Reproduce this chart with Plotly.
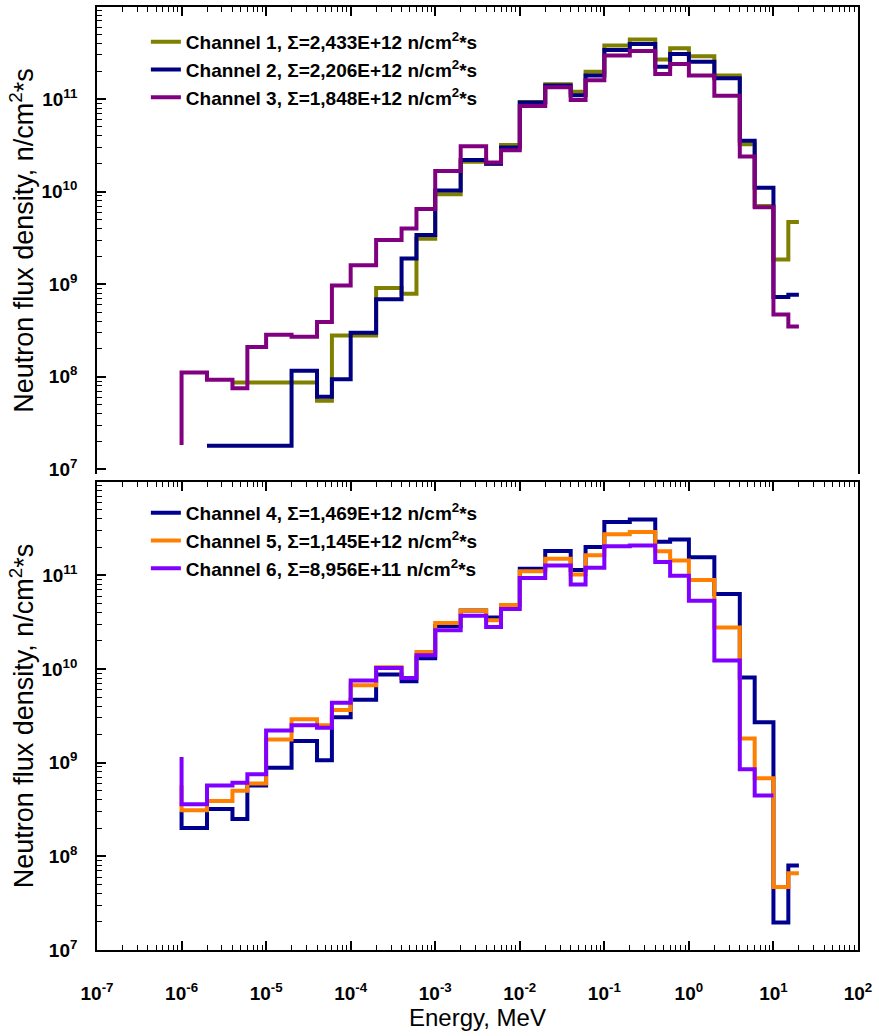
import plotly.graph_objects as go

# Energy group edges, MeV (step plot vertices)
energy = [1e-6, 2e-6, 4e-6, 6e-6, 1e-5, 2e-5, 4e-5, 6e-5,
          1e-4, 2e-4, 4e-4, 6e-4, 1e-3, 2e-3, 4e-3, 6e-3,
          1e-2, 2e-2, 4e-2, 6e-2, 0.1, 0.2, 0.4, 0.6,
          1, 2, 4, 6, 10, 15, 20]

# Flux density values, n/cm^2*s (value i is the level of the group ending at energy[i])
ch1 = [None, None, 8.7e7, 8.7e7, 8.7e7, 8.7e7, 8.7e7, 5.5e7, 2.8e8, 2.8e8, 9.1e8, 7.9e8,
       3.1e9, 9.4e9, 2.1e10, 2.0e10, 3.2e10, 9.3e10, 1.45e11, 1.2e11, 1.98e11, 3.8e11,
       4.4e11, 2.67e11, 3.55e11, 2.9e11, 1.8e11, 3.25e10, 7.0e9, 1.85e9, 4.7e9]
ch2 = [None, 1.8e7, 1.8e7, 1.8e7, 1.8e7, 1.8e7, 1.16e8, 6.1e7, 9.4e7, 3.0e8, 6.9e8, 1.9e9,
       3.4e9, 1.03e10, 2.2e10, 2.0e10, 3.0e10, 9.2e10, 1.4e11, 1.1e11, 1.8e11, 3.4e11,
       3.95e11, 2.24e11, 3.07e11, 2.54e11, 1.68e11, 3.55e10, 1.1e10, 7.3e8, 7.7e8]
ch3 = [1.83e7, 1.11e8, 9.3e7, 7.5e7, 2.1e8, 2.85e8, 2.7e8, 3.9e8, 9.7e8, 1.6e9, 3.0e9, 4.0e9,
       6.5e9, 1.67e10, 3.1e10, 2.07e10, 2.8e10, 8.4e10, 1.34e11, 9.8e10, 1.6e11, 2.95e11,
       3.3e11, 1.87e11, 2.4e11, 1.8e11, 1.09e11, 2.4e10, 6.8e9, 4.7e8, 3.5e8]
ch4 = [3.0e8, 2.0e8, 3.2e8, 2.5e8, 5.7e8, 8.8e8, 1.7e9, 1.06e9, 3.05e9, 4.7e9, 8.7e9, 7.4e9,
       1.3e10, 2.87e10, 4.2e10, 3.53e10, 4.8e10, 1.17e11, 1.81e11, 1.14e11, 2.0e11, 3.7e11,
       3.94e11, 2.27e11, 2.4e11, 1.56e11, 6.3e10, 8.1e9, 2.7e9, 1.97e7, 8.0e7]
ch5 = [5.7e8, 3.1e8, 3.9e8, 5.0e8, 6.0e8, 1.77e9, 2.9e9, 2.5e9, 3.65e9, 6.7e9, 1.04e10, 8.0e9,
       1.52e10, 3.1e10, 4.2e10, 3.3e10, 4.8e10, 1.1e11, 1.5e11, 1.02e11, 1.63e11, 2.74e11,
       2.9e11, 1.8e11, 1.44e11, 8.9e10, 2.76e10, 1.81e9, 6.8e8, 4.7e7, 6.6e7]
ch6 = [1.15e9, 3.6e8, 5.7e8, 6.1e8, 7.5e8, 2.2e9, 2.5e9, 2.35e9, 4.35e9, 7.5e9, 1.02e10, 8.0e9,
       1.4e10, 2.58e10, 3.7e10, 2.8e10, 4.35e10, 9.35e10, 1.27e11, 7.95e10, 1.2e11, 2.04e11,
       2.08e11, 1.38e11, 9.9e10, 5.35e10, 1.23e10, 8.5e8, 4.45e8, None, None]

names_top = ["Channel 1, Σ=2,433E+12 n/cm<sup>2</sup>*s",
             "Channel 2, Σ=2,206E+12 n/cm<sup>2</sup>*s",
             "Channel 3, Σ=1,848E+12 n/cm<sup>2</sup>*s"]
names_bot = ["Channel 4, Σ=1,469E+12 n/cm<sup>2</sup>*s",
             "Channel 5, Σ=1,145E+12 n/cm<sup>2</sup>*s",
             "Channel 6, Σ=8,956E+11 n/cm<sup>2</sup>*s"]
colors_top = ["#808000", "#000080", "#800080"]
colors_bot = ["#000090", "#FF8000", "#8000FF"]

# Tick labels
x_exponents = [-7, -6, -5, -4, -3, -2, -1, 0, 1, 2]
y_exponents = [7, 8, 9, 10, 11]
x_tickvals = [10.0 ** e for e in x_exponents]
x_ticktext = ["10<sup>%d</sup>" % e for e in x_exponents]
y_tickvals = [10.0 ** e for e in y_exponents]
y_ticktext = ["10<sup>%d</sup>" % e for e in y_exponents]

def minor_vals(lo, hi):
    return [m * 10.0 ** e for e in range(lo, hi) for m in range(2, 10)]

FONT = "Liberation Sans, Arial, sans-serif"

fig = go.Figure()
for y, name, col in zip([ch1, ch2, ch3], names_top, colors_top):
    fig.add_trace(go.Scatter(x=energy, y=y, name=name, mode="lines",
                             line=dict(color=col, width=4, shape="vh"),
                             xaxis="x", yaxis="y", legend="legend"))
for y, name, col in zip([ch4, ch5, ch6], names_bot, colors_bot):
    fig.add_trace(go.Scatter(x=energy, y=y, name=name, mode="lines",
                             line=dict(color=col, width=4, shape="vh"),
                             xaxis="x2", yaxis="y2", legend="legend2"))

H_PLOT = 1036 - 7 - 86
top_dom = [(950 - 474) / H_PLOT, 1]
bot_dom = [0, (950 - 482) / H_PLOT]

common_axis = dict(type="log", showline=True, linecolor="black", linewidth=1.6,
                   ticks="inside", ticklen=9, tickwidth=1.7, tickcolor="black",
                   showgrid=False, zeroline=False, tickmode="array")
xminor = dict(ticks="inside", ticklen=5, tickcolor="black", tickwidth=1.4,
              tickmode="array", tickvals=minor_vals(-7, 2), showgrid=False)
yminor = dict(ticks="inside", ticklen=5, tickcolor="black", tickwidth=1.4,
              tickmode="array", tickvals=minor_vals(6, 12), showgrid=False)
ytitle = dict(text="Neutron flux density, n/cm<sup>2</sup>*s",
              font=dict(family=FONT, size=27, color="black"), standoff=0)
tickfont = dict(family=FONT, size=19, color="black", weight="bold")
legfont = dict(family=FONT, size=19, color="black", weight="bold")

fig.update_layout(
    width=879, height=1036,
    margin=dict(l=97, r=19, t=7, b=86),
    paper_bgcolor="white", plot_bgcolor="white",
    font=dict(family=FONT, color="black"),
    xaxis=dict(common_axis, domain=[0, 1], anchor="y", side="top", range=[-7, 2],
               tickvals=x_tickvals, ticktext=x_ticktext, showticklabels=False, minor=xminor),
    yaxis=dict(common_axis, domain=top_dom, anchor="x", range=[6.95, 11.995], mirror=True,
               tickvals=y_tickvals, ticktext=y_ticktext, tickfont=tickfont,
               ticklabelstandoff=14, minor=yminor, title=ytitle),
    xaxis2=dict(common_axis, domain=[0, 1], anchor="y2", range=[-7, 2], mirror="ticks",
                tickvals=x_tickvals, ticktext=x_ticktext, tickfont=tickfont,
                ticklabelstandoff=25, minor=xminor,
                title=dict(text="Energy, MeV", font=dict(family=FONT, size=24, color="black"),
                           standoff=5)),
    yaxis2=dict(common_axis, domain=bot_dom, anchor="x2", range=[7, 11.995], mirror=True,
                tickvals=y_tickvals, ticktext=y_ticktext, tickfont=tickfont,
                ticklabelstandoff=14, minor=yminor, title=ytitle),
    legend=dict(x=(146 - 97) / 763, y=(950 - 23) / H_PLOT, xanchor="left", yanchor="top",
                bgcolor="rgba(0,0,0,0)", font=legfont),
    legend2=dict(x=(146 - 97) / 763, y=(950 - 494) / H_PLOT, xanchor="left", yanchor="top",
                 bgcolor="rgba(0,0,0,0)", font=legfont),
    showlegend=True,
)

fig.write_html("out.html", config={"displayModeBar": False},
               post_script="document.body.style.margin='0';")
